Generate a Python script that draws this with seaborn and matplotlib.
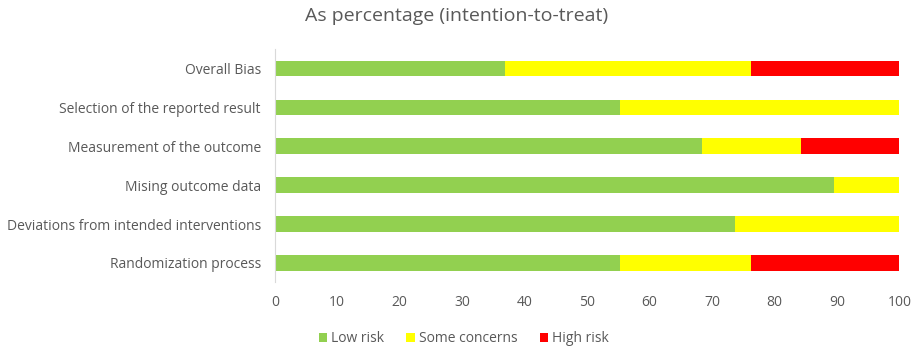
import pandas as pd
import seaborn as sns
import matplotlib.pyplot as plt

# Risk of bias domains, top to bottom
domains = [
    "Overall Bias",
    "Selection of the reported result",
    "Measurement of the outcome",
    "Mising outcome data",
    "Deviations from intended interventions",
    "Randomization process",
]
low_risk = [36.8, 55.3, 68.4, 89.5, 73.7, 55.3]
some_concerns = [39.5, 44.7, 15.8, 10.5, 26.3, 21.0]
high_risk = [23.7, 0.0, 15.8, 0.0, 0.0, 23.7]

colors = {"Low risk": "#92D050", "Some concerns": "#FFFF00", "High risk": "#FF0000"}
text_gray = "#595959"

df = pd.DataFrame({
    "domain": domains,
    "Low risk": low_risk,
    "Some concerns": some_concerns,
    "High risk": high_risk,
})
# cumulative ends so the segments can be layered
df["c_low"] = df["Low risk"]
df["c_some"] = df["c_low"] + df["Some concerns"]
df["c_high"] = df["c_some"] + df["High risk"]

sns.set_style("white")
plt.rcParams["font.family"] = ["Open Sans", "DejaVu Sans"]

fig = plt.figure(figsize=(9.13, 3.5), dpi=100)
ax = fig.add_axes([0.301, 0.193, 0.684, 0.668])

for col, name in [("c_high", "High risk"), ("c_some", "Some concerns"), ("c_low", "Low risk")]:
    sns.barplot(data=df, x=col, y="domain", order=domains, orient="h",
                color=colors[name], width=0.39, ax=ax, label=name,
                linewidth=0, saturation=1)

ax.set_xlim(0, 100)
ax.set_xticks(range(0, 101, 10))
ax.set_xlabel("")
ax.set_ylabel("")
fig.text(0.5, 0.955, "As percentage (intention-to-treat)", fontsize=14,
         color=text_gray, ha="center", va="center")
ax.tick_params(axis="both", length=0, labelsize=10, colors=text_gray)
ax.tick_params(axis="x", pad=9)
ax.tick_params(axis="y", pad=10)
for side in ["top", "right", "bottom"]:
    ax.spines[side].set_visible(False)
ax.spines["left"].set_color("#D9D9D9")
ax.spines["left"].set_linewidth(0.8)

handles, labels = ax.get_legend_handles_labels()
if ax.get_legend() is not None:
    ax.get_legend().remove()
order = ["Low risk", "Some concerns", "High risk"]
hmap = dict(zip(labels, handles))
leg = fig.legend([hmap[k] for k in order], order, loc="center",
                 bbox_to_anchor=(0.508, 0.032), ncol=3, frameon=False,
                 fontsize=10, handlelength=0.6, handleheight=0.6,
                 columnspacing=1.6, handletextpad=0.3)
for t in leg.get_texts():
    t.set_color(text_gray)

fig.savefig("out.png", dpi=100)
